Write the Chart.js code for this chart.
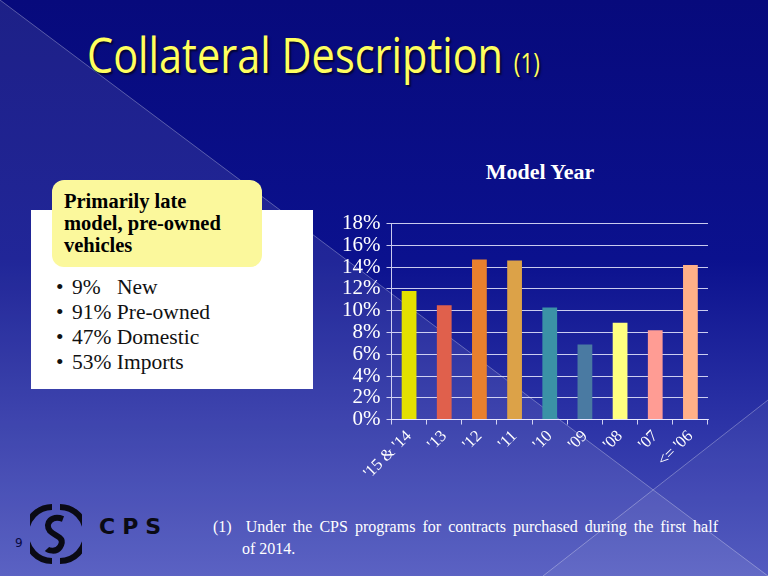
<!DOCTYPE html>
<html>
<head>
<meta charset="utf-8">
<script src="https://cdn.jsdelivr.net/npm/chart.js@4/dist/chart.umd.min.js"></script>
<style>
  html, body { margin: 0; padding: 0; }
  body { width: 768px; height: 576px; position: relative; overflow: hidden; background: #0a0e80; }
  #bg { position: absolute; left: 0; top: 0; }
  .title { position: absolute; left: 87px; top: 20px; color: #ffff5e; font-family: "Open Sans", "Liberation Sans", sans-serif; font-size: 50px; white-space: nowrap; text-shadow: 2px 2px 2px rgba(0,0,0,0.6); transform: scaleX(0.83); transform-origin: left top; }
  .title small { font-size: 27px; }
  .whitebox { position: absolute; left: 31px; top: 210px; width: 282px; height: 179px; background: #ffffff; }
  .yellowbox { position: absolute; left: 52px; top: 180px; width: 210px; height: 87px; background: #fbf89c; border-radius: 12px; }
  .yellowbox div { position: absolute; left: 12px; top: 10px; font-family: "Liberation Serif", serif; font-weight: bold; font-size: 20.5px; line-height: 22px; color: #000; }
  .bullets { position: absolute; left: 56px; top: 275px; margin: 0; padding: 0; list-style: none; }
  .bullets li { font-family: "Liberation Serif", "DejaVu Serif", serif; font-size: 21.5px; line-height: 25px; color: #111; }
  .bullets li span.b { display: inline-block; width: 16px; }
  .bullets li span.p { display: inline-block; width: 45px; }
  .charttitle { position: absolute; left: 440px; width: 200px; top: 159px; text-align: center; font-family: "Liberation Serif", serif; font-weight: bold; font-size: 22px; color: #fff; }
  #wrap { position: absolute; left: 330px; top: 205px; width: 400px; height: 280px; }
  .foot { position: absolute; left: 213px; top: 516px; width: 505px; font-family: "Liberation Serif", serif; font-size: 16px; line-height: 22px; color: #fff; }
  .foot .l1 { text-align: justify; text-align-last: justify; }
  .foot .l2 { padding-left: 29px; }
  .pg { position: absolute; left: 15px; top: 536px; font-family: "DejaVu Sans", sans-serif; font-size: 12px; color: #0a0a40; }
  .cps { position: absolute; left: 99px; top: 514px; font-family: "DejaVu Sans", sans-serif; font-weight: bold; font-size: 22px; letter-spacing: 7px; color: #0a0a14; }
</style>
</head>
<body>
<svg id="bg" width="768" height="576">
  <defs>
    <linearGradient id="g" x1="0" y1="0" x2="0" y2="1">
      <stop offset="0" stop-color="#070a7c"/>
      <stop offset="0.45" stop-color="#0b118e"/>
      <stop offset="1" stop-color="#4b53bd"/>
    </linearGradient>
  </defs>
  <rect width="768" height="576" fill="url(#g)"/>
  <polygon points="0,0 768,576 0,576" fill="#ffffff" opacity="0.09"/>
  <polygon points="768,400 768,576 543,576" fill="#ffffff" opacity="0.05"/>
  <line x1="0" y1="0" x2="768" y2="576" stroke="#ffffff" stroke-opacity="0.3" stroke-width="1"/>
  <line x1="543" y1="576" x2="768" y2="400" stroke="#ffffff" stroke-opacity="0.3" stroke-width="1"/>
</svg>

<div class="title">Collateral Description <small>(1)</small></div>

<div class="whitebox"></div>
<div class="yellowbox"><div>Primarily late<br>model, pre-owned<br>vehicles</div></div>
<ul class="bullets">
  <li><span class="b">•</span><span class="p">9%</span>New</li>
  <li><span class="b">•</span>91% Pre-owned</li>
  <li><span class="b">•</span>47% Domestic</li>
  <li><span class="b">•</span>53% Imports</li>
</ul>

<div class="charttitle">Model Year</div>
<div id="wrap"><canvas id="modelYearChart" width="400" height="280"></canvas></div>

<div class="pg">9</div>
<svg style="position:absolute;left:30px;top:503px" width="52" height="62" viewBox="0 0 52 62">
  <path d="M22 4 A26 27 0 0 0 22 58" fill="none" stroke="#0a0a14" stroke-width="6"/>
  <path d="M30 4 A26 27 0 0 1 30 58" fill="none" stroke="#0a0a14" stroke-width="6"/>
  <path d="M33 16 C22 12 14 20 20 28 C26 34 36 34 30 44 C26 50 18 47 17 46" fill="none" stroke="#0a0a14" stroke-width="6"/>
</svg>
<div class="cps">CPS</div>

<div class="foot"><div class="l1">(1)&nbsp; Under the CPS programs for contracts purchased during the first half</div><div class="l2">of 2014.</div></div>

<script>
const categories = ["'15 & '14", "'13", "'12", "'11", "'10", "'09", "'08", "'07", "<= '06"];
const shares = [11.8, 10.5, 14.7, 14.6, 10.3, 6.9, 8.9, 8.2, 14.2];
const barColors = ['#e3e000', '#e0604c', '#e8802e', '#dca248', '#3b92a6', '#4a7aa2', '#ffff80', '#ff9c94', '#ffb088'];
const yMin = 0, yMax = 18, yStep = 2;

const ctx = document.getElementById('modelYearChart').getContext('2d');
new Chart(ctx, {
    type: 'bar',
    data: {
        labels: categories,
        datasets: [{
            label: 'Model Year',
            data: shares,
            backgroundColor: barColors,
            barPercentage: 0.42,
            categoryPercentage: 1.0,
        }],
    },
    options: {
        responsive: false,
        animation: false,
        layout: { padding: { right: 22, left: 6, top: 0, bottom: 0 } },
        plugins: {
            legend: { display: false },
            tooltip: { enabled: false },
        },
        scales: {
            y: {
                min: yMin,
                max: yMax,
                ticks: {
                    stepSize: yStep,
                    autoSkip: false,
                    color: '#ffffff',
                    font: { family: 'Liberation Serif', size: 21 },
                    padding: 6,
                    callback: v => v + '%',
                },
                grid: { color: 'rgba(235,235,255,0.85)', lineWidth: 1, tickLength: 5 },
                border: { color: 'rgba(235,235,255,0.85)' },
            },
            x: {
                ticks: {
                    color: '#ffffff',
                    font: { family: 'Liberation Serif', size: 16.5 },
                    minRotation: 45,
                    maxRotation: 45,
                    padding: 2,
                    autoSkip: false,
                },
                grid: { offset: true, drawOnChartArea: false, color: 'rgba(235,235,255,0.85)', tickLength: 5 },
                border: { color: 'rgba(235,235,255,0.85)' },
            },
        },
    },
});
</script>
</body>
</html>
